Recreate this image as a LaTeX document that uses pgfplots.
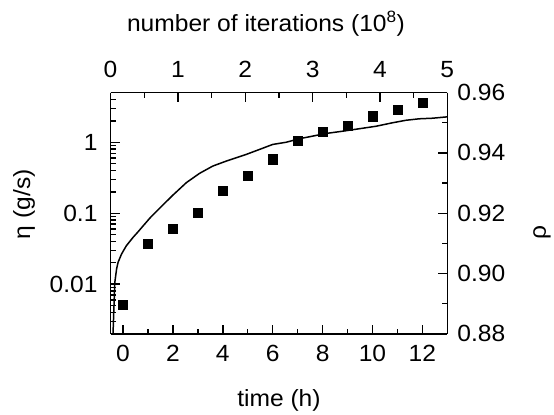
\documentclass[border=0pt]{standalone}
\usepackage{fontspec}
\setmainfont{Liberation Sans}[FakeStretch=1.05]
\usepackage{pgfplots}
\pgfplotsset{compat=1.18}
\newcommand{\bigf}{\fontsize{23.5}{26}\selectfont}
\begin{document}
\begin{tikzpicture}
\pgfplotsset{
  common/.style={
    scale only axis=true,
    width=338pt, height=242pt,
    at={(0,0)}, anchor=south west,
    xmin=-0.5, xmax=13,
    every tick label/.append style={font=\bigf},
    label style={font=\bigf},
    tick style={line width=1.4pt, black},
    major tick length=9pt,
    minor tick length=5pt,
    tick align=inside,
    axis line style={line width=1.5pt},
    /pgf/number format/assume math mode=true,
  }
}
\begin{axis}[common,
  axis x line*=bottom, axis y line*=left,
  ymode=log, ymin=0.002, ymax=5,
  xtick={0,2,4,6,8,10,12},
  xticklabels={0,2,4,6,8,10,12},
  minor xtick={1,3,5,7,9,11},
  ytick={0.01,0.1,1},
  yticklabels={0.01,0.1,1},
  minor ytick={0.002,0.003,0.004,0.005,0.006,0.007,0.008,0.009,0.02,0.03,0.04,0.05,0.06,0.07,0.08,0.09,0.2,0.3,0.4,0.5,0.6,0.7,0.8,0.9,2,3,4,5},
  xticklabel style={anchor=north, inner sep=0pt, yshift=-11.5pt},
  yticklabel style={anchor=east, inner sep=0pt, xshift=-13pt},
  xlabel={time (h)},
  xlabel style={at={(axis description cs:0.5,-0.275)}, anchor=center},
  ylabel={η (g/s)},
  ylabel style={at={(axis description cs:-0.257,0.537)}, anchor=center},
]
\addplot[black, line width=1.5pt, no marks] table {
-0.42 0.0015
-0.40 0.0021
-0.372 0.0041
-0.33 0.0106
-0.26 0.0163
-0.20 0.0203
-0.06 0.0266
0.13 0.0347
0.40 0.0456
0.60 0.0546
1.07 0.085
1.47 0.118
2.0 0.18
2.54 0.27
3.07 0.365
3.6 0.462
4.14 0.543
4.94 0.674
5.47 0.792
6.0 0.931
6.54 1.0
7.07 1.12
7.6 1.22
8.14 1.33
8.8 1.43
9.47 1.55
10.14 1.68
10.8 1.88
11.34 2.04
11.87 2.14
12.4 2.18
13 2.28
};
\end{axis}
\begin{axis}[common,
  axis x line*=top, axis y line*=right,
  ymin=0.88, ymax=0.96,
  xtick={-0.5,2.2,4.9,7.6,10.3,13},
  xticklabels={0,1,2,3,4,5},
  minor xtick={0.85,3.55,6.25,8.95,11.65},
  ytick={0.88,0.90,0.92,0.94,0.96},
  yticklabels={0.88,0.90,0.92,0.94,0.96},
  minor ytick={0.89,0.91,0.93,0.95},
  xticklabel style={anchor=south, inner sep=0pt, yshift=15pt},
  yticklabel style={anchor=west, inner sep=0pt, xshift=10pt},
  xlabel={number of iterations (10\textsuperscript{8})},
  xlabel style={at={(axis description cs:0.4615,1.288)}, anchor=center},
  ylabel={ρ},
  ylabel style={at={(axis description cs:1.281,0.421)}, anchor=center},
]
\addplot[only marks, mark=square*, mark size=4.6pt, black] table {
0 0.8896
1 0.9100
2 0.9149
3 0.9202
4 0.9275
5 0.9325
6 0.9379
7 0.9441
8 0.9471
9 0.9489
10 0.9522
11 0.9543
12 0.9566
};
\end{axis}
\path (-111pt,-80pt) rectangle (443pt,335pt);
\end{tikzpicture}
\end{document}
